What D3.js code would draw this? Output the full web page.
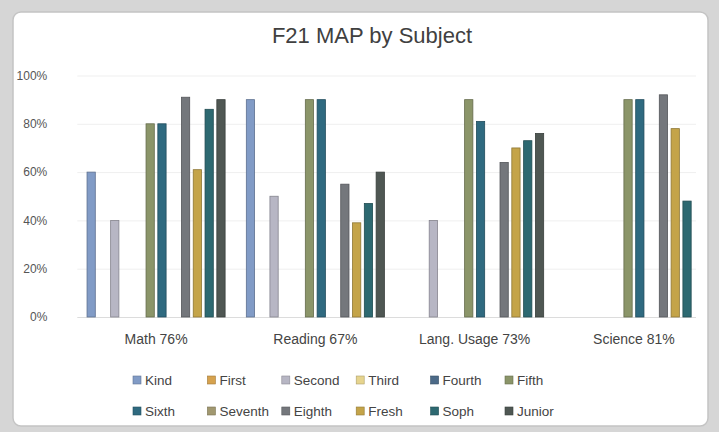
<!DOCTYPE html>
<html>
<head>
<meta charset="utf-8">
<style>
  body { margin: 0; background: #d6d6d6; }
  svg { display: block; font-family: "Liberation Sans", Arial, sans-serif; }
</style>
</head>
<body>
<div class="chart"></div>
<script src="https://d3js.org/d3.v7.min.js"></script>
<script>
  // data
  const subjects = ['Math 76%', 'Reading 67%', 'Lang. Usage 73%', 'Science 81%']
  const grades = ['Kind', 'First', 'Second', 'Third', 'Fourth', 'Fifth',
                  'Sixth', 'Seventh', 'Eighth', 'Fresh', 'Soph', 'Junior']
  const gradeColors = ['#819bc6', '#d6a24e', '#b7b6c4', '#e6d48e', '#4c6a88', '#8b9569',
                       '#2f6a80', '#a19870', '#74777c', '#c4a449', '#2d6971', '#4f5753']
  // percent for each grade, in grade order (null = no bar)
  const math    = [60, null, 40, null, null, 80, 80, null, 91, 61, 86, 90]
  const reading = [90, null, 50, null, null, 90, 90, null, 55, 39, 47, 60]
  const lang    = [null, null, 40, null, null, 90, 81, null, 64, 70, 73, 76]
  const science = [null, null, null, null, null, 90, 90, null, 92, 78, 48, null]
  const yTicks = [0, 20, 40, 60, 80, 100]

  const bySubject = [math, reading, lang, science]

  const width = 719, height = 432
  const plot = { left: 77.3, right: 712.7, top: 75.5, bottom: 317 }

  const svg = d3.select('.chart')
                .append('svg')
                .attr('width', width)
                .attr('height', height)

  // 外框 (scanned frame)
  svg.append('rect')
     .attr('width', width).attr('height', height)
     .attr('fill', '#d6d6d6')
  svg.append('rect')
     .attr('x', 13).attr('y', 12)
     .attr('width', 695).attr('height', 414)
     .attr('rx', 8)
     .attr('fill', '#fff')
     .attr('stroke', '#c4c4c4')
     .attr('stroke-width', 1.5)

  // title
  svg.append('text')
     .attr('x', 372).attr('y', 43)
     .attr('text-anchor', 'middle')
     .attr('font-size', 22)
     .attr('fill', '#404040')
     .text('F21 MAP by Subject')

  const yScale = d3.scaleLinear()
                   .domain([0, 100])
                   .range([plot.bottom, plot.top])

  const x0 = d3.scaleBand()
               .domain(subjects)
               .range([plot.left, plot.right])
               .paddingInner(0.111)
               .paddingOuter(0.05)

  const x1 = d3.scaleBand()
               .domain(grades)
               .range([0, x0.bandwidth()])
               .paddingInner(0.3)
               .paddingOuter(0.15)

  const color = d3.scaleOrdinal().domain(grades).range(gradeColors)

  // gridlines + y axis
  const yAxis = d3.axisLeft(yScale)
                  .tickValues(yTicks)
                  .tickSize(-(plot.right - plot.left))
                  .tickFormat(d => `${d}%`)

  const yAxisGroup = svg.append('g')
                        .attr('transform', `translate(${plot.left},0)`)
                        .call(yAxis)
  yAxisGroup.select('.domain').remove()
  yAxisGroup.selectAll('.tick line')
            .attr('x2', 696 - plot.left)
            .attr('stroke', d => d === 0 ? '#dcdcdc' : '#efefef')
  yAxisGroup.selectAll('.tick text')
            .attr('x', -30)
            .attr('font-size', 12)
            .attr('fill', '#555')
            .attr('font-family', '"Liberation Sans", Arial, sans-serif')

  // category axis
  const xAxis = d3.axisBottom(x0).tickSize(0).tickPadding(17)
  const xAxisGroup = svg.append('g')
                        .attr('transform', `translate(0,${plot.bottom})`)
                        .call(xAxis)
  xAxisGroup.select('.domain').remove()
  xAxisGroup.selectAll('.tick text')
            .attr('font-size', 14)
            .attr('fill', '#444')
            .attr('font-family', '"Liberation Sans", Arial, sans-serif')

  // bars
  const groups = svg.append('g')
                    .selectAll('g')
                    .data(subjects)
                    .join('g')
                    .attr('transform', d => `translate(${x0(d)},0)`)

  groups.selectAll('rect')
        .data((d, i) => grades.map((g, j) => ({ grade: g, value: bySubject[i][j] }))
                              .filter(r => r.value !== null))
        .join('rect')
        .attr('x', d => x1(d.grade))
        .attr('y', d => yScale(d.value))
        .attr('width', x1.bandwidth())
        .attr('height', d => plot.bottom - yScale(d.value))
        .attr('fill', d => color(d.grade))
        .attr('stroke', d => d3.color(color(d.grade)).darker(0.9))
        .attr('stroke-width', 0.8)

  // legend
  const legend = svg.append('g')
                    .selectAll('g')
                    .data(grades)
                    .join('g')
                    .attr('transform', (d, i) => `translate(${133 + (i % 6) * 74.4},${380 + Math.floor(i / 6) * 31})`)

  legend.append('rect')
        .attr('x', 0).attr('y', -4)
        .attr('width', 8).attr('height', 8)
        .attr('fill', d => color(d))
        .attr('stroke', d => d3.color(color(d)).darker(0.8))
        .attr('stroke-width', 0.6)

  legend.append('text')
        .attr('x', 12).attr('y', 5)
        .attr('font-size', 13.5)
        .attr('fill', '#444')
        .text(d => d)
</script>
</body>
</html>
